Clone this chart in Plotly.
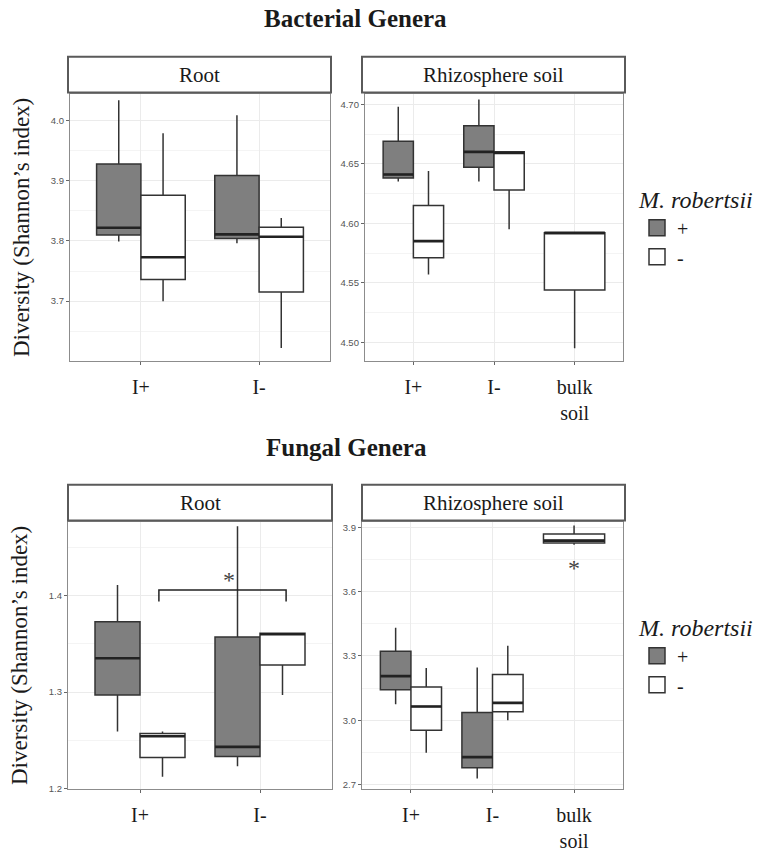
import plotly.graph_objects as go

# ---------------- data (lower whisker, Q1, median, Q3, upper whisker) ----------------
root_categories = ["I+", "I-"]
rhizo_categories = ["I+", "I-", "bulk<br>soil"]

bact_root_plus = [(3.799, 3.810, 3.822, 3.928, 4.034), (3.796, 3.804, 3.811, 3.909, 4.009)]
bact_root_minus = [(3.700, 3.736, 3.773, 3.876, 3.979), (3.622, 3.715, 3.807, 3.823, 3.838)]
bact_rhizo_plus = [(4.635, 4.638, 4.641, 4.669, 4.698), (4.635, 4.647, 4.660, 4.682, 4.704)]
bact_rhizo_minus = [(4.557, 4.571, 4.585, 4.615, 4.644), (4.595, 4.628, 4.659, 4.660, 4.660)]
bact_bulk_minus = [(4.495, 4.544, 4.592, 4.592, 4.592)]

fung_root_plus = [(1.259, 1.297, 1.335, 1.373, 1.411), (1.223, 1.233, 1.243, 1.357, 1.472)]
fung_root_minus = [(1.212, 1.232, 1.254, 1.257, 1.259), (1.297, 1.328, 1.360, 1.361, 1.361)]
fung_rhizo_plus = [(3.075, 3.142, 3.206, 3.322, 3.431), (2.728, 2.778, 2.828, 3.036, 3.246)]
fung_rhizo_minus = [(2.848, 2.953, 3.064, 3.155, 3.244), (3.000, 3.040, 3.081, 3.213, 3.347)]
fung_bulk_minus = [(3.819, 3.827, 3.838, 3.869, 3.909)]

bact_root_ticks = [3.7, 3.8, 3.9, 4.0]
bact_rhizo_ticks = [4.50, 4.55, 4.60, 4.65, 4.70]
fung_root_ticks = [1.2, 1.3, 1.4]
fung_rhizo_ticks = [2.7, 3.0, 3.3, 3.6, 3.9]

fung_root_bracket_y = 1.406
fung_root_star_y = 1.416
fung_bulk_star_y = 3.712

legend_labels = ["+", "-"]

# ---------------- style ----------------
SERIF = "Liberation Serif"
SANS = "Liberation Sans"
FILL_PLUS = "#7f7f7f"
FILL_MINUS = "#ffffff"
EDGE = "#333333"
TEXT = "#1a1a1a"
DODGE = 0.1875
BW = 0.375
BULKW = 0.75
W, H = 760, 852

fig = go.Figure()


def add_boxes(stats, positions, width, fill, xa, ya, name):
    lo, q1, me, q3, hi = zip(*stats)
    fig.add_trace(go.Box(
        x=positions, lowerfence=list(lo), q1=list(q1), median=list(me), q3=list(q3),
        upperfence=list(hi), width=width, fillcolor=fill,
        line=dict(color=EDGE, width=1.5), whiskerwidth=0, boxpoints=False,
        xaxis=xa, yaxis=ya, name=name, showlegend=False, hoverinfo="skip"))
    mx, my = [], []
    for x, m in zip(positions, me):
        mx += [x - width / 2, x + width / 2, None]
        my += [m, m, None]
    fig.add_trace(go.Scatter(x=mx, y=my, mode="lines", line=dict(color="#222222", width=2.6),
                             xaxis=xa, yaxis=ya, showlegend=False, hoverinfo="skip"))


def px_x(p):
    return p / W


def px_y(p):
    return 1 - p / H


# Bacterial
add_boxes(bact_root_plus, [i + 1 - DODGE for i in range(2)], BW, FILL_PLUS, "x", "y", "+")
add_boxes(bact_root_minus, [i + 1 + DODGE for i in range(2)], BW, FILL_MINUS, "x", "y", "-")
add_boxes(bact_rhizo_plus, [i + 1 - DODGE for i in range(2)], BW, FILL_PLUS, "x2", "y2", "+")
add_boxes(bact_rhizo_minus, [i + 1 + DODGE for i in range(2)], BW, FILL_MINUS, "x2", "y2", "-")
add_boxes(bact_bulk_minus, [3], BULKW, FILL_MINUS, "x2", "y2", "-")
# Fungal
add_boxes(fung_root_plus, [i + 1 - DODGE for i in range(2)], BW, FILL_PLUS, "x3", "y3", "+")
add_boxes(fung_root_minus, [i + 1 + DODGE for i in range(2)], BW, FILL_MINUS, "x3", "y3", "-")
add_boxes(fung_rhizo_plus, [i + 1 - DODGE for i in range(2)], BW, FILL_PLUS, "x4", "y4", "+")
add_boxes(fung_rhizo_minus, [i + 1 + DODGE for i in range(2)], BW, FILL_MINUS, "x4", "y4", "-")
add_boxes(fung_bulk_minus, [3], BULKW, FILL_MINUS, "x4", "y4", "-")

# legend keys (one set per legend)
for lg, (xa, ya) in (("legend", ("x", "y")), ("legend2", ("x3", "y3"))):
    for lab, fill in zip(legend_labels, [FILL_PLUS, FILL_MINUS]):
        fig.add_trace(go.Scatter(x=[None], y=[None], mode="markers", name=lab, legend=lg,
                                 marker=dict(symbol="square", size=16, color=fill,
                                             line=dict(color=EDGE, width=1.5)),
                                 xaxis=xa, yaxis=ya, hoverinfo="skip"))


def xaxis(domain, cats, anchor):
    n = len(cats)
    return dict(domain=domain, anchor=anchor, range=[0.4, n + 0.6],
                tickvals=list(range(1, n + 1)), ticktext=cats,
                showgrid=True, gridcolor="#ebebeb", gridwidth=1,
                showline=True, mirror=True, linecolor="#8c8c8c", linewidth=1.3,
                ticks="outside", ticklen=3, tickcolor="#666666", zeroline=False,
                ticklabelstandoff=5,
                tickfont=dict(family=SERIF, size=20, color=TEXT), fixedrange=True)


def yaxis(domain, ticks, rng, fmt, anchor, title=None):
    step = ticks[1] - ticks[0]
    minor = [t + step / 2 for t in [ticks[0] - step] + ticks]
    d = dict(domain=domain, anchor=anchor, range=rng,
             tickvals=ticks, ticktext=[fmt.format(t) for t in ticks],
             showgrid=True, gridcolor="#ebebeb", gridwidth=1,
             minor=dict(tickvals=minor, showgrid=True, gridcolor="#f4f4f4", gridwidth=0.8),
             showline=True, mirror=True, linecolor="#8c8c8c", linewidth=1.3,
             ticks="outside", ticklen=3, tickcolor="#666666", zeroline=False,
             tickfont=dict(family=SANS, size=9.5, color="#555555"), fixedrange=True)
    if title:
        d["title"] = dict(text=title, font=dict(family=SERIF, size=23, color=TEXT), standoff=14)
    return d


ytitle = "Diversity (Shannon\u2019s index)"
top_dom = [px_y(363), px_y(94)]
bot_dom = [px_y(793), px_y(524)]

legend_common = dict(xanchor="left", yanchor="top",
                     title=dict(text="<i>M. robertsii</i>", font=dict(family=SERIF, size=24, color=TEXT)),
                     font=dict(family=SERIF, size=20, color=TEXT), bgcolor="rgba(0,0,0,0)",
                     tracegroupgap=0, itemclick=False, itemdoubleclick=False, itemwidth=30)

fig.update_layout(
    width=W, height=H, margin=dict(l=0, r=0, t=0, b=0),
    paper_bgcolor="white", plot_bgcolor="white", boxmode="overlay",
    xaxis=xaxis([px_x(70), px_x(330)], root_categories, "y"),
    yaxis=yaxis(top_dom, bact_root_ticks, [3.600, 4.045], "{:.1f}", "x", ytitle),
    xaxis2=xaxis([px_x(365), px_x(623)], rhizo_categories, "y2"),
    yaxis2=yaxis(top_dom, bact_rhizo_ticks, [4.484, 4.709], "{:.2f}", "x2"),
    xaxis3=xaxis([px_x(68), px_x(332)], root_categories, "y3"),
    yaxis3=yaxis(bot_dom, fung_root_ticks, [1.199, 1.477], "{:.1f}", "x3", ytitle),
    xaxis4=xaxis([px_x(362), px_x(623)], rhizo_categories, "y4"),
    yaxis4=yaxis(bot_dom, fung_rhizo_ticks, [2.678, 3.927], "{:.1f}", "x4"),
    legend=dict(x=px_x(637), y=px_y(178), **legend_common),
    legend2=dict(x=px_x(637), y=px_y(608), **legend_common),
)

# strips
strips = [((68, 331), (57, 93), "Root"), ((362, 625), (57, 93), "Rhizosphere soil"),
          ((68, 332), (487, 523), "Root"), ((362, 625), (487, 523), "Rhizosphere soil")]
for (x0, x1), (y0, y1), label in strips:
    fig.add_shape(type="rect", xref="paper", yref="paper", x0=px_x(x0), x1=px_x(x1),
                  y0=px_y(y1), y1=px_y(y0), line=dict(color="#5a5a5a", width=2), fillcolor="white")
    fig.add_annotation(xref="paper", yref="paper", x=(px_x(x0) + px_x(x1)) / 2, y=(px_y(y0) + px_y(y1)) / 2,
                       xanchor="center", yanchor="middle",
                       text=label, showarrow=False, font=dict(family=SERIF, size=21, color=TEXT))

# titles
fig.add_annotation(xref="paper", yref="paper", x=px_x(355), y=px_y(19), xanchor="center", yanchor="middle",
                   text="<b>Bacterial Genera</b>", showarrow=False, font=dict(family=SERIF, size=25, color=TEXT))
fig.add_annotation(xref="paper", yref="paper", x=px_x(346), y=px_y(450), xanchor="center", yanchor="middle",
                   text="<b>Fungal Genera</b>", showarrow=False, font=dict(family=SERIF, size=25, color=TEXT))

# significance bracket (fungal root, between the two "-" boxes)
bx0 = 1 + DODGE - 0.03
bx1 = 2 + DODGE + 0.03
tick_drop = 0.012
fig.add_shape(type="path", xref="x3", yref="y3",
              path=f"M {bx0} {fung_root_bracket_y - tick_drop} L {bx0} {fung_root_bracket_y} "
                   f"L {bx1} {fung_root_bracket_y} L {bx1} {fung_root_bracket_y - tick_drop}",
              line=dict(color="#222222", width=1.5))
fig.add_annotation(xref="x3", yref="y3", x=(bx0 + bx1) / 2 + 0.05, y=fung_root_star_y, text="*",
                   showarrow=False, font=dict(family=SERIF, size=24, color="#444444"),
                   xanchor="center", yanchor="middle")
fig.add_annotation(xref="x4", yref="y4", x=3, y=fung_bulk_star_y, text="*",
                   showarrow=False, font=dict(family=SERIF, size=24, color="#444444"),
                   xanchor="center", yanchor="middle")

fig.write_html("out.html")
